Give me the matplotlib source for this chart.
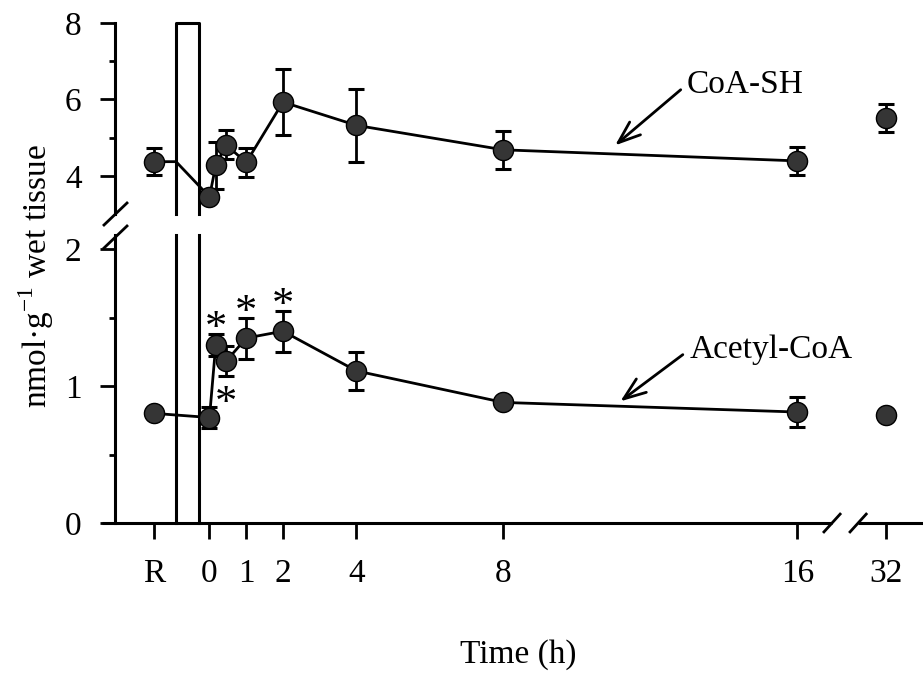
import numpy as np
import matplotlib
matplotlib.use('Agg')
import matplotlib.pyplot as plt

plt.rcParams['font.family'] = ['Liberation Serif', 'DejaVu Serif']
plt.rcParams['mathtext.fontset'] = 'custom'
plt.rcParams['mathtext.rm'] = 'Liberation Serif'

# ────────────────────────────────────────────────────────────────────────────────
# sampling times (h); 'R' = reference before ischemia
times = ['R', 0, 0.17, 0.45, 1, 2, 4, 8, 16, 32]
coa_sh = [4.37, 3.45, 4.27, 4.81, 4.35, 5.93, 5.32, 4.68, 4.39, 5.51]
coa_sh_err = [0.36, 0.10, 0.62, 0.38, 0.37, 0.87, 0.95, 0.50, 0.36, 0.37]
acetyl = [0.80, 0.77, 1.30, 1.18, 1.35, 1.40, 1.11, 0.88, 0.81, 0.79]
acetyl_err = [0.0, 0.08, 0.08, 0.11, 0.15, 0.15, 0.14, 0.0, 0.11, 0.03]
# significant points (acetyl-CoA): time, above/below
signif = [(0.17, 'above'), (0.45, 'below'), (1, 'above'), (2, 'above')]

xtick_labels = ['R', '0', '1', '2', '4', '8', '16', '32']

# broken x axis: R drawn left of 0, 32 placed just after the break
R_POS = -1.5
POS_32 = 18.4
ISCH = (-0.91, -0.29)   # ischemia bar
BREAK_X = (16.94, 17.65)


def xpos(t):
    if t == 'R':
        return R_POS
    if t == 32:
        return POS_32
    return float(t)


x = np.array([xpos(t) for t in times])
coa_sh = np.array(coa_sh)
acetyl = np.array(acetyl)

W, H = 923, 683
fig = plt.figure(figsize=(W / 100, H / 100), dpi=100)


def px_axes(left, top, right, bottom):
    return fig.add_axes([left / W, 1 - bottom / H, (right - left) / W, (bottom - top) / H])


XLIM = (-2.571, 19.415)
ax_top = px_axes(115, 23, 923, 214)
ax_bot = px_axes(115, 235.3, 923, 523)

LW = 2.2
mk = dict(marker='o', ms=14.5, mfc='#353535', mec='black', mew=1.0)
eb = dict(fmt='none', ecolor='black', elinewidth=2.0, capsize=6, capthick=2.2)

# ---- upper panel: CoA-SH
ax = ax_top
ax.set_xlim(*XLIM)
ax.set_ylim(3, 8)
main = slice(1, 9)
ax.plot([x[0], ISCH[0], x[1]], [coa_sh[0], coa_sh[0], coa_sh[1]], color='black', lw=2.0, zorder=2)
ax.plot(x[main], coa_sh[main], color='black', lw=2.0, zorder=2)
ax.errorbar(x, coa_sh, yerr=coa_sh_err, zorder=3, **eb)
ax.plot(x, coa_sh, ls='none', zorder=4, **mk)
for s in ['top', 'right', 'bottom']:
    ax.spines[s].set_visible(False)
ax.spines['left'].set_linewidth(LW)
ax.set_xticks([])
ax.set_yticks([4, 6, 8])
ax.set_yticks([5, 7], minor=True)
ax.tick_params(axis='y', which='major', length=11, width=2, labelsize=24, pad=13)
ax.tick_params(axis='y', which='minor', length=4, width=2)
ax.plot([ISCH[0], ISCH[0], ISCH[1], ISCH[1]], [3, 8, 8, 3], color='black', lw=2.2,
        clip_on=False, zorder=1)
ax.annotate('', xy=(10.98, 4.75), xytext=(12.88, 6.30),
            arrowprops=dict(arrowstyle='->,head_length=0.8,head_width=0.3',
                            mutation_scale=20, lw=2.0, color='black'))
ax.text(12.97, 6.38, 'CoA-SH', fontsize=24, ha='left', va='center')

# ---- lower panel: acetyl-CoA
ax = ax_bot
ax.set_xlim(*XLIM)
ax.set_ylim(0, 2.1)
ax.plot(x[:9], acetyl[:9], color='black', lw=2.0, zorder=2)
ax.errorbar(x, acetyl, yerr=acetyl_err, zorder=3, **eb)
ax.plot(x, acetyl, ls='none', zorder=4, **mk)
for s in ['top', 'right', 'bottom']:
    ax.spines[s].set_visible(False)
ax.spines['left'].set_linewidth(LW)
ax.set_yticks([0, 1, 2])
ax.set_yticks([0.5, 1.5], minor=True)
ax.tick_params(axis='y', which='major', length=11, width=2, labelsize=24, pad=13)
ax.tick_params(axis='y', which='minor', length=4, width=2)
ax.set_xticks([R_POS, 0, 1, 2, 4, 8, 16, POS_32])
ax.set_xticklabels(xtick_labels)
ax.tick_params(axis='x', length=11.5, width=2, labelsize=24, pad=14)
ax.plot([ISCH[0], ISCH[0]], [0, 2.1], color='black', lw=2.2, clip_on=False, zorder=1)
ax.plot([ISCH[1], ISCH[1]], [0, 2.1], color='black', lw=2.2, clip_on=False, zorder=1)

# bottom spine with a break before 32
ax.plot([XLIM[0] - 0.35, BREAK_X[0]], [0, 0], color='black', lw=LW, clip_on=False, solid_capstyle='butt')
ax.plot([BREAK_X[1], XLIM[1]], [0, 0], color='black', lw=LW, clip_on=False, solid_capstyle='butt')
for bx in BREAK_X:
    ax.plot([bx - 0.22, bx + 0.22], [-0.065, 0.065], color='black', lw=2.0, clip_on=False)

# asterisks sit just off the error-bar caps
for t, side in signif:
    i = times.index(t)
    if side == 'above':
        yy = acetyl[i] + acetyl_err[i] - 0.045
    else:
        yy = acetyl[i] - acetyl_err[i] - 0.285
    ax.text(x[i], yy, '*', fontsize=32, ha='center', va='baseline')

ax.annotate('', xy=(11.12, 0.876), xytext=(12.94, 1.241),
            arrowprops=dict(arrowstyle='->,head_length=0.8,head_width=0.3',
                            mutation_scale=20, lw=2.0, color='black'))
ax.text(13.07, 1.263, 'Acetyl-CoA', fontsize=24, ha='left', va='center')

# y axis break marks
for yb in (214, 237):
    fig.add_artist(plt.Line2D([104 / W, 127 / W], [1 - (yb + 11) / H, 1 - (yb - 11) / H],
                              color='black', lw=2.0))

fig.text(36 / W, 1 - 276 / H, 'nmol·g$^{\\mathregular{-1}}$ wet tissue', rotation=90,
         fontsize=24, ha='center', va='center')
fig.text(518 / W, 1 - 655 / H, 'Time (h)', fontsize=24, ha='center', va='center')

fig.savefig('out.png', dpi=100)
